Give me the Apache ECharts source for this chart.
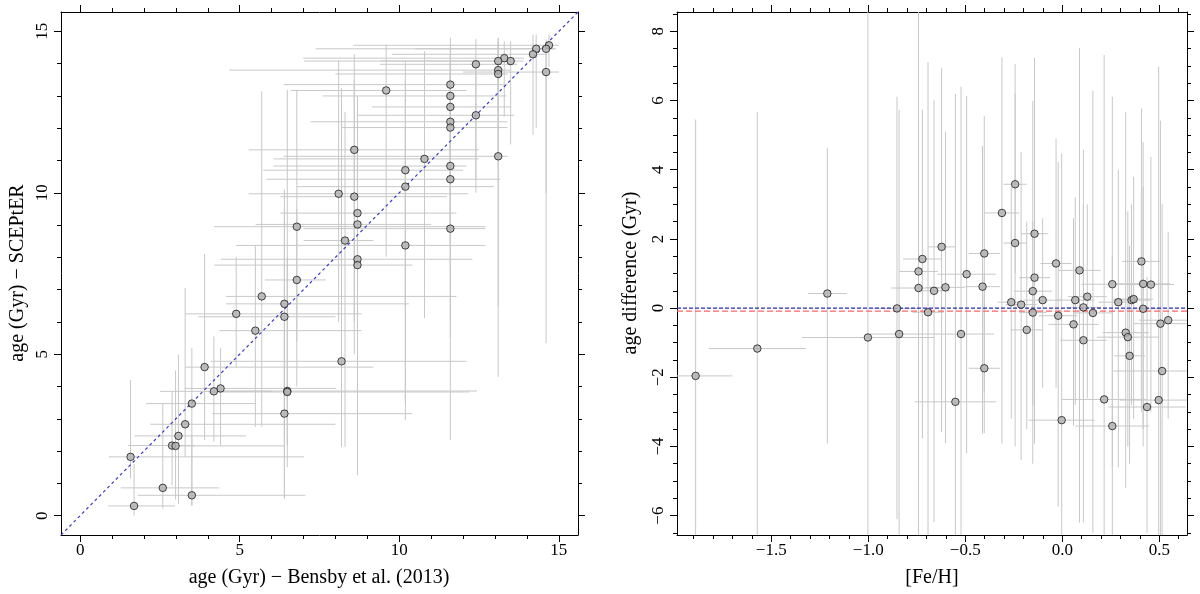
<!DOCTYPE html>
<html>
<head>
<meta charset="utf-8">
<script src="https://cdn.jsdelivr.net/npm/echarts@6/dist/echarts.min.js"></script>
<style>html,body{margin:0;padding:0;background:#fff;}#c{width:1200px;height:594px;}</style>
</head>
<body>
<div id="c"></div>
<script>
// ---------- Left panel: age (Bensby) vs age (SCEPtER) ----------
const ageBensby   = [14.29,14.69,14.60,14.19,13.29,13.10,13.49,12.40,13.10,13.10,14.60,9.59,11.60,11.60,11.60,12.40,11.60,11.60,8.59,10.79,13.10,11.60,10.19,11.60,10.19,8.10,8.59,8.69,8.69,6.79,11.60,8.30,10.19,8.69,8.69,6.79,5.69,6.40,4.89,6.40,5.49,8.19,3.90,4.40,4.19,6.49,6.49,3.50,6.40,3.29,3.08,2.88,2.99,1.58,2.59,3.50,1.69];
const ageScepter  = [14.46,14.57,14.46,14.29,14.17,14.08,14.08,13.98,13.80,13.68,13.74,13.17,13.35,13.00,12.66,12.40,12.20,12.02,11.33,11.05,11.13,10.83,10.70,10.42,10.19,9.97,9.88,9.37,9.02,8.95,8.89,8.52,8.37,7.94,7.76,7.30,6.79,6.56,6.25,6.16,5.73,4.78,4.60,3.94,3.85,3.86,3.83,3.47,3.16,2.83,2.47,2.17,2.16,1.82,0.86,0.63,0.30];
const bensbyLow   = [7.38,8.57,10.5,9.77,6.99,7.02,9.42,9.40,4.67,8.00,12.0,6.59,6.37,7.60,9.14,8.67,7.22,8.18,5.28,6.06,6.37,6.06,5.74,5.84,6.80,5.28,6.27,6.27,5.50,4.20,7.00,7.01,4.89,4.41,4.20,5.79,4.57,4.57,3.29,3.70,4.36,4.09,3.29,3.29,2.50,4.41,4.00,2.07,4.14,2.20,1.70,1.50,2.80,0.90,1.27,1.80,0.88];
const bensbyHigh  = [14.9,15.0,14.9,14.6,13.9,13.5,13.9,13.7,13.5,13.4,15.0,12.11,13.39,13.36,13.5,13.6,13.39,13.39,12.49,12.49,13.39,12.11,12.0,13.17,12.96,12.16,11.5,11.79,11.0,12.7,12.7,9.19,12.7,12.29,10.41,7.7,11.79,10.3,8.82,8.0,8.82,12.11,9.19,8.02,6.0,12.43,12.2,5.52,10.41,8.0,5.2,3.6,6.4,7.01,4.36,7.06,2.97];
const scepterLow  = [12.0,13.9,5.34,11.8,12.36,12.5,11.5,10.4,4.3,11.0,10.0,8.02,10.5,9.5,9.0,10.0,8.5,7.5,6.0,6.12,6.5,6.0,6.5,5.5,2.96,6.0,5.0,5.0,4.5,5.39,2.34,2.13,3.5,1.25,3.0,4.0,2.75,0.53,4.57,2.5,2.75,2.13,2.34,2.18,2.29,2.18,1.5,0.32,0.53,1.82,0.37,0.94,0.5,1.15,0.22,0.3,0.0];
const scepterHigh = [14.9,14.9,14.75,14.9,14.69,14.7,14.7,14.76,14.8,14.6,14.6,14.59,14.8,14.5,14.2,14.0,14.0,14.0,14.3,14.38,14.8,14.0,14.07,13.5,13.5,14.1,13.5,13.0,12.5,13.19,12.0,12.5,12.0,12.0,11.5,9.5,13.14,10.1,8.02,9.5,8.38,13.24,8.1,5.19,5.55,13.19,8.0,5.19,6.0,7.05,4.98,3.84,4.5,4.2,3.48,2.5,1.6];

// ---------- Right panel: [Fe/H] vs age difference ----------
const feh      = [-1.890,-1.572,-1.211,-1.002,-0.852,-0.841,-0.741,-0.721,-0.741,-0.692,-0.661,-0.622,-0.602,-0.551,-0.522,-0.493,-0.411,-0.402,-0.402,-0.311,-0.263,-0.243,-0.243,-0.212,-0.183,-0.152,-0.152,-0.143,-0.143,-0.101,-0.032,-0.021,-0.003,0.058,0.067,0.089,0.109,0.109,0.129,0.158,0.216,0.258,0.258,0.289,0.327,0.338,0.347,0.357,0.368,0.408,0.417,0.417,0.437,0.457,0.497,0.506,0.515,0.546];
const ageDiff  = [-1.96,-1.17,0.42,-0.85,-0.01,-0.75,1.06,1.42,0.58,-0.12,0.50,1.77,0.60,-2.71,-0.75,0.98,0.62,1.58,-1.74,2.75,0.17,3.58,1.88,0.10,-0.63,0.49,-0.13,0.88,2.15,0.23,1.29,-0.22,-3.24,-0.47,0.23,1.09,0.02,-0.93,0.33,-0.14,-2.64,0.69,-3.41,0.17,-0.71,-0.84,-1.38,0.23,0.26,1.35,0.70,-0.02,-2.86,0.68,-2.66,-0.45,-1.82,-0.35];
const fehErr   = [0.19,0.25,0.10,0.34,0.12,0.15,0.10,0.10,0.14,0.08,0.08,0.07,0.10,0.21,0.17,0.15,0.09,0.08,0.08,0.09,0.07,0.06,0.06,0.08,0.08,0.10,0.07,0.08,0.07,0.10,0.08,0.10,0.17,0.13,0.10,0.11,0.09,0.12,0.10,0.10,0.22,0.16,0.19,0.10,0.12,0.16,0.08,0.10,0.10,0.10,0.14,0.09,0.20,0.12,0.20,0.14,0.25,0.15];
const diffLow  = [-9.4,-8.0,-3.92,-10,-6.1,-7.2,-9,-3.77,-5.0,-7.5,-6.19,-3.58,-3.9,-9.0,-7.5,-4.2,-3.63,-2.4,-3.62,-3.92,-3.2,1.0,-4.0,-4.4,-3.5,-4.5,-2.8,-2.5,-3.92,-2.3,-2.3,-5.74,-7.0,-3.4,-2.8,-6.2,-3.4,-6.2,-2.6,-6.5,-8.5,-4.6,-8.0,-4.6,-5.2,-4.0,-4.5,-2.8,-3.2,-3.0,-3.5,-4.0,-6.5,-3.0,-9.0,-6.8,-6.8,-3.2];
const diffHigh = [5.45,5.67,4.63,9,6.11,5.73,9.5,5.74,5.5,7.11,6.02,6.95,5.1,6.19,6.4,6.13,4.69,5.55,1.0,7.25,3.5,6.2,7.06,4.52,2.5,5.99,2.5,3.8,7.23,2.6,4.9,4.22,4.47,2.6,3.2,7.52,3.0,4.58,3.0,6.28,7.32,6.11,1.5,4.0,5.67,2.8,1.8,3.0,3.8,5.77,4.8,3.5,0.9,4.37,6.98,5.42,3.0,2.2];
const meanDiff = -0.09;

// ---------- Axis settings ----------
const leftRange  = [-0.6, 15.6];
const rightX     = [-1.986, 0.643];
const rightY     = [-6.56, 8.56];
const leftMajor  = [0, 5, 10, 15];
const leftMinor  = [0,1,2,3,4,5,6,7,8,9,10,11,12,13,14,15];
const rxMajor    = [-1.5, -1.0, -0.5, 0.0, 0.5];
const rxMinor    = [-1.9,-1.8,-1.7,-1.6,-1.5,-1.4,-1.3,-1.2,-1.1,-1.0,-0.9,-0.8,-0.7,-0.6,-0.5,-0.4,-0.3,-0.2,-0.1,0.0,0.1,0.2,0.3,0.4,0.5,0.6];
const ryMajor    = [-6, -4, -2, 0, 2, 4, 6, 8];
const ryMinor    = [-6.5,-6,-5.5,-5,-4.5,-4,-3.5,-3,-2.5,-2,-1.5,-1,-0.5,0,0.5,1,1.5,2,2.5,3,3.5,4,4.5,5,5.5,6,6.5,7,7.5,8,8.5];

const FONT = 'Liberation Serif';
const minus = s => String(s).replace('-', '\u2212');

function mkAxis(kind, grid, range, vals, major, pos, showLabel, fmt) {
  return {
    type: 'value', gridIndex: grid, min: range[0], max: range[1], position: pos,
    axisLine: { show: major, onZero: false, lineStyle: { color: '#000', width: 1 } },
    splitLine: { show: false },
    axisTick: { show: true, inside: false, length: major ? 7 : 4, customValues: vals, lineStyle: { color: '#000', width: 1 } },
    axisLabel: { show: showLabel, customValues: vals, fontFamily: FONT, fontSize: 17, color: '#000',
                 margin: kind === 'y' ? 10 : 7, rotate: kind === 'y' ? 90 : 0,
                 formatter: fmt || (v => minus(v)) }
  };
}

const xAxes = [
  mkAxis('x', 0, leftRange, leftMajor, true, 'bottom', true),
  mkAxis('x', 0, leftRange, leftMinor, false, 'bottom', false),
  mkAxis('x', 0, leftRange, leftMajor, true, 'top', false),
  mkAxis('x', 0, leftRange, leftMinor, false, 'top', false),
  mkAxis('x', 1, rightX, rxMajor, true, 'bottom', true, v => minus(v.toFixed(1))),
  mkAxis('x', 1, rightX, rxMinor, false, 'bottom', false),
  mkAxis('x', 1, rightX, rxMajor, true, 'top', false),
  mkAxis('x', 1, rightX, rxMinor, false, 'top', false)
];
const yAxes = [
  mkAxis('y', 0, leftRange, leftMajor, true, 'left', true),
  mkAxis('y', 0, leftRange, leftMinor, false, 'left', false),
  mkAxis('y', 0, leftRange, leftMajor, true, 'right', false),
  mkAxis('y', 0, leftRange, leftMinor, false, 'right', false),
  mkAxis('y', 1, rightY, ryMajor, true, 'left', true),
  mkAxis('y', 1, rightY, ryMinor, false, 'left', false),
  mkAxis('y', 1, rightY, ryMajor, true, 'right', false),
  mkAxis('y', 1, rightY, ryMinor, false, 'right', false)
];

function errRender(xlo, xhi, ylo, yhi) {
  return function (params, api) {
    const i = params.dataIndex;
    const cs = params.coordSys;
    const x = api.value(0), y = api.value(1);
    const cx = v => Math.max(cs.x, Math.min(cs.x + cs.width, v));
    const cy = v => Math.max(cs.y, Math.min(cs.y + cs.height, v));
    const l = api.coord([xlo(i), y]), r = api.coord([xhi(i), y]);
    const b = api.coord([x, ylo(i)]), t = api.coord([x, yhi(i)]);
    const st = { stroke: '#c8c8c8', lineWidth: 1 };
    return { type: 'group', children: [
      { type: 'line', shape: { x1: cx(l[0]), y1: l[1], x2: cx(r[0]), y2: r[1] }, style: st },
      { type: 'line', shape: { x1: b[0], y1: cy(b[1]), x2: t[0], y2: cy(t[1]) }, style: st }
    ]};
  };
}

const leftPts  = ageBensby.map((v, i) => [v, ageScepter[i]]);
const rightPts = feh.map((v, i) => [v, ageDiff[i]]);

const ptStyle = { color: '#b0b0b0', borderColor: '#1a1a1a', borderWidth: 1 };

const option = {
  animation: false,
  backgroundColor: '#fff',
  grid: [
    { left: 61, top: 12, width: 517, height: 523 },
    { left: 677, top: 12, width: 510, height: 523 }
  ],
  xAxis: xAxes,
  yAxis: yAxes,
  series: [
    { type: 'custom', xAxisIndex: 0, yAxisIndex: 0, data: leftPts, encode: { x: 0, y: 1 }, z: 1,
      renderItem: errRender(i => bensbyLow[i], i => bensbyHigh[i], i => scepterLow[i], i => scepterHigh[i]) },
    { type: 'line', xAxisIndex: 0, yAxisIndex: 0, data: [[leftRange[0], leftRange[0]], [leftRange[1], leftRange[1]]],
      symbol: 'none', z: 2, lineStyle: { color: '#3a3ac8', width: 1.2, type: [3, 3] } },
    { type: 'scatter', xAxisIndex: 0, yAxisIndex: 0, data: leftPts, symbol: 'circle', symbolSize: 7.5, z: 3, itemStyle: ptStyle },

    { type: 'custom', xAxisIndex: 4, yAxisIndex: 4, data: rightPts, encode: { x: 0, y: 1 }, z: 1,
      renderItem: errRender(i => feh[i] - fehErr[i], i => feh[i] + fehErr[i], i => diffLow[i], i => diffHigh[i]) },
    { type: 'line', xAxisIndex: 4, yAxisIndex: 4, data: [[rightX[0], 0], [rightX[1], 0]],
      symbol: 'none', z: 2, lineStyle: { color: '#2a2ab4', width: 1.2, type: [4, 2] } },
    { type: 'line', xAxisIndex: 4, yAxisIndex: 4, data: [[rightX[0], meanDiff], [rightX[1], meanDiff]],
      symbol: 'none', z: 2, lineStyle: { color: '#ff6464', width: 1.2, type: [6, 3] } },
    { type: 'scatter', xAxisIndex: 4, yAxisIndex: 4, data: rightPts, symbol: 'circle', symbolSize: 7.5, z: 3, itemStyle: ptStyle }
  ],
  graphic: [
    { type: 'text', x: 319, y: 578, style: { text: 'age (Gyr) \u2212 Bensby et al. (2013)', font: '20px "Liberation Serif"', fill: '#000', textAlign: 'center', textVerticalAlign: 'middle' } },
    { type: 'text', x: 18, y: 273, rotation: Math.PI / 2, style: { text: 'age (Gyr) \u2212 SCEPtER', font: '20px "Liberation Serif"', fill: '#000', textAlign: 'center', textVerticalAlign: 'middle' } },
    { type: 'text', x: 932, y: 578, style: { text: '[Fe/H]', font: '20px "Liberation Serif"', fill: '#000', textAlign: 'center', textVerticalAlign: 'middle' } },
    { type: 'text', x: 631, y: 273, rotation: Math.PI / 2, style: { text: 'age difference (Gyr)', font: '20px "Liberation Serif"', fill: '#000', textAlign: 'center', textVerticalAlign: 'middle' } }
  ]
};

const chart = echarts.init(document.getElementById('c'), null, { renderer: 'canvas' });
chart.setOption(option);
</script>
</body>
</html>
